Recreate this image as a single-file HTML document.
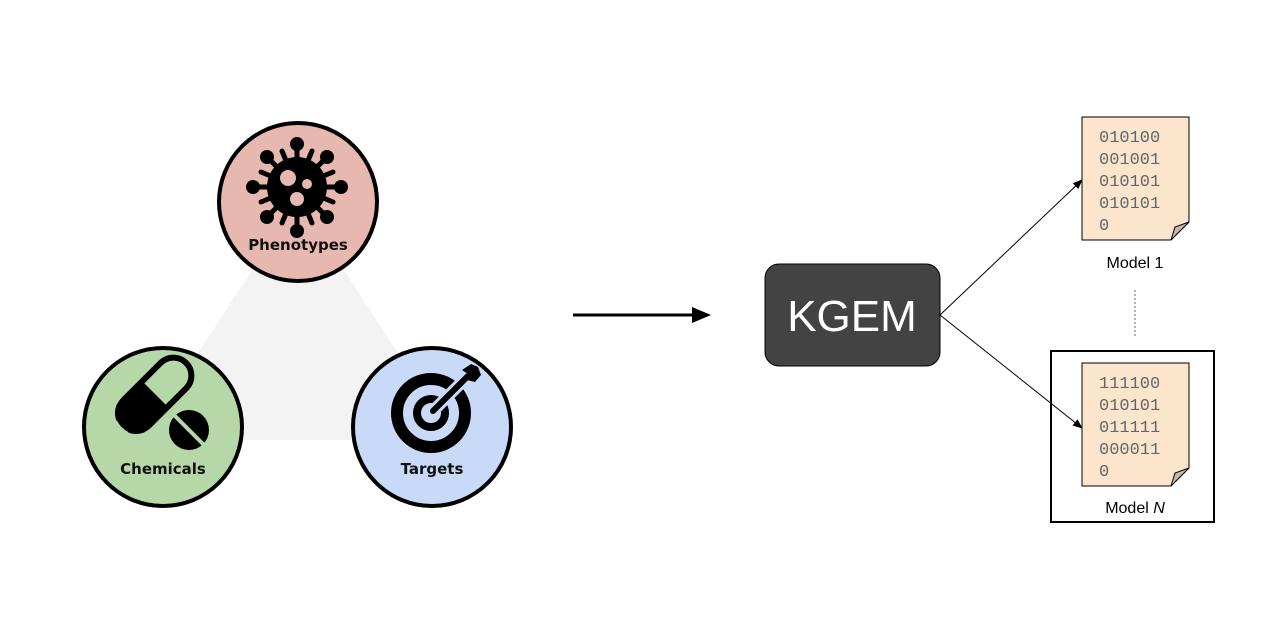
<!DOCTYPE html>
<html><head><meta charset="utf-8"><style>html,body{margin:0;padding:0;background:#fff}svg{display:block}</style></head>
<body>
<svg width="1280" height="640" viewBox="0 0 1280 640" xmlns="http://www.w3.org/2000/svg">
<defs>
<marker id="ah" markerWidth="10" markerHeight="10" refX="9" refY="5" orient="auto" markerUnits="userSpaceOnUse"><path d="M0,1 L10,5 L0,9 z" fill="#000"/></marker>
<clipPath id="pc"><rect x="-46" y="-20" width="46" height="40"/></clipPath>
</defs>
<polygon points="298,200 141,440 455,440" fill="#f3f3f3"/>
<!-- Phenotypes -->
<circle cx="298" cy="202" r="79" fill="#e6b8af" stroke="#000" stroke-width="4"/>
<g transform="translate(297,187)" stroke="#000" stroke-width="5" stroke-linecap="round" fill="#000">
<g>
<line x1="0" y1="0" x2="0" y2="-42"/><circle cx="0" cy="-43" r="4.5"/>
<line x1="0" y1="0" x2="30" y2="-30"/><circle cx="30" cy="-30" r="4.5"/>
<line x1="0" y1="0" x2="44" y2="0"/><circle cx="44" cy="0" r="4.5"/>
<line x1="0" y1="0" x2="30" y2="30"/><circle cx="30" cy="30" r="4.5"/>
<line x1="0" y1="0" x2="0" y2="44"/><circle cx="0" cy="44" r="4.5"/>
<line x1="0" y1="0" x2="-30" y2="30"/><circle cx="-30" cy="30" r="4.5"/>
<line x1="0" y1="0" x2="-44" y2="0"/><circle cx="-44" cy="0" r="4.5"/>
<line x1="0" y1="0" x2="-30" y2="-30"/><circle cx="-30" cy="-30" r="4.5"/>
<line x1="0" y1="0" x2="15" y2="-36"/><line x1="0" y1="0" x2="36" y2="-15"/>
<line x1="0" y1="0" x2="36" y2="15"/><line x1="0" y1="0" x2="15" y2="36"/>
<line x1="0" y1="0" x2="-15" y2="36"/><line x1="0" y1="0" x2="-36" y2="15"/>
<line x1="0" y1="0" x2="-36" y2="-15"/><line x1="0" y1="0" x2="-15" y2="-36"/>
</g>
<circle cx="0" cy="0" r="30" stroke="none"/>
<circle cx="-9" cy="-9" r="8" fill="#e6b8af" stroke="none"/>
<circle cx="10" cy="-3" r="5" fill="#e6b8af" stroke="none"/>
<circle cx="0" cy="12" r="7" fill="#e6b8af" stroke="none"/>
</g>
<text x="298" y="250" text-anchor="middle" font-family="'DejaVu Sans','Liberation Sans',sans-serif" font-weight="bold" font-size="15" fill="#111">Phenotypes</text>
<!-- Chemicals -->
<circle cx="163" cy="427" r="79" fill="#b6d7a8" stroke="#000" stroke-width="4"/>
<g transform="translate(155,394) rotate(-45)">
<rect x="-44" y="-18" width="88" height="36" rx="18" fill="none" stroke="#000" stroke-width="6"/>
<rect x="-48" y="-21" width="96" height="42" rx="21" fill="#000" clip-path="url(#pc)"/>
</g>
<circle cx="189" cy="430" r="20" fill="#000"/>
<line x1="173" y1="414" x2="205" y2="446" stroke="#b6d7a8" stroke-width="4"/>
<text x="163" y="474" text-anchor="middle" font-family="'DejaVu Sans','Liberation Sans',sans-serif" font-weight="bold" font-size="15" fill="#111">Chemicals</text>
<!-- Targets -->
<circle cx="432" cy="427" r="79" fill="#c9daf8" stroke="#000" stroke-width="4"/>
<circle cx="431" cy="413" r="34" fill="none" stroke="#000" stroke-width="12"/>
<circle cx="431" cy="413" r="14" fill="none" stroke="#000" stroke-width="8"/>
<line x1="431" y1="413" x2="470" y2="374" stroke="#c9daf8" stroke-width="12"/>
<line x1="433" y1="411" x2="468" y2="376" stroke="#000" stroke-width="6" stroke-linecap="round"/>
<polygon points="462,370 471,364 478,367 481,375 475,382 467,380 468,374" fill="#000"/>
<text x="432" y="474" text-anchor="middle" font-family="'DejaVu Sans','Liberation Sans',sans-serif" font-weight="bold" font-size="15" fill="#111">Targets</text>
<!-- arrow -->
<line x1="573" y1="315" x2="694" y2="315" stroke="#000" stroke-width="3"/>
<polygon points="692,307 711,315 692,323" fill="#000"/>
<!-- KGEM -->
<rect x="765" y="264" width="175" height="102" rx="14" fill="#434343" stroke="#000" stroke-width="1"/>
<text x="852" y="331" text-anchor="middle" font-family="'Liberation Sans',sans-serif" font-size="44" fill="#fff">KGEM</text>
<!-- connectors -->
<line x1="940" y1="315" x2="1082" y2="180" stroke="#000" stroke-width="1" marker-end="url(#ah)"/>
<line x1="940" y1="315" x2="1082" y2="428" stroke="#000" stroke-width="1" marker-end="url(#ah)"/>
<!-- doc 1 -->
<path d="M1082,117 H1189 V222 L1171,240 H1082 Z" fill="#fce5cd" stroke="#000" stroke-width="1"/>
<path d="M1189,222 L1171,240 L1175,227 Z" fill="#c9b8a4" stroke="#000" stroke-width="1"/>
<g font-family="'Liberation Mono',monospace" font-size="17" fill="#666">
<text x="1099" y="142">010100</text><text x="1099" y="164">001001</text><text x="1099" y="186">010101</text><text x="1099" y="208">010101</text><text x="1099" y="230">0</text>
</g>
<text x="1135" y="268" text-anchor="middle" font-family="'Liberation Sans',sans-serif" font-size="16" fill="#000">Model 1</text>
<line x1="1135" y1="290" x2="1135" y2="338" stroke="#666" stroke-width="1" stroke-dasharray="2,2"/>
<!-- frame -->
<rect x="1051" y="351" width="163" height="171" fill="none" stroke="#000" stroke-width="2"/>
<path d="M1082,363 H1189 V468 L1171,486 H1082 Z" fill="#fce5cd" stroke="#000" stroke-width="1"/>
<path d="M1189,468 L1171,486 L1175,473 Z" fill="#c9b8a4" stroke="#000" stroke-width="1"/>
<g font-family="'Liberation Mono',monospace" font-size="17" fill="#666">
<text x="1099" y="388">111100</text><text x="1099" y="410">010101</text><text x="1099" y="432">011111</text><text x="1099" y="454">000011</text><text x="1099" y="476">0</text>
</g>
<text x="1135" y="513" text-anchor="middle" font-family="'Liberation Sans',sans-serif" font-size="16" fill="#000">Model <tspan font-style="italic">N</tspan></text>
</svg>
</body></html>
